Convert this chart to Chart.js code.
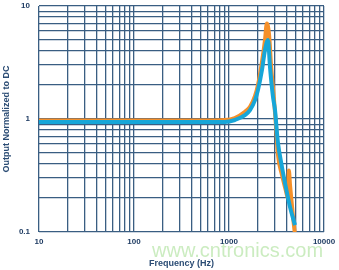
<!DOCTYPE html>
<html>
<head>
<meta charset="utf-8">
<script src="https://cdn.jsdelivr.net/npm/chart.js@4/dist/chart.umd.min.js"></script>
<style>
  html, body { margin: 0; padding: 0; background: #ffffff; }
  #wrap { position: relative; width: 339px; height: 270px; }
  #wm { position: absolute; left: 152px; top: 239px; font-family: "Liberation Sans", Arial, sans-serif;
        font-size: 20px; color: rgba(160, 220, 140, 0.55); white-space: nowrap; pointer-events: none; }
</style>
</head>
<body>
<div id="wrap">
  <canvas id="c" width="339" height="270"></canvas>
  <div id="wm">www.cntronics.com</div>
</div>
<script>
// ---- Data ----
const freqOrange = [10, 100, 500, 908, 1150, 1472, 1663, 1879, 2020, 2224, 2392, 2500, 2640, 2770, 2980, 3130, 3280, 3610, 3980, 4170, 4270, 4390, 4720, 4950];
const orangeVals = [0.97, 0.97, 0.97, 0.98, 1.02, 1.16, 1.28, 1.6, 2.0, 3.2, 5.0, 7.0, 5.6, 3.0, 1.47, 0.85, 0.48, 0.32, 0.23, 0.2, 0.35, 0.26, 0.136, 0.095];

const freqBlue = [10, 100, 500, 908, 1155, 1472, 1663, 1879, 2020, 2224, 2392, 2574, 2701, 2904, 3050, 3200, 3280, 3610, 3890, 4390, 4950];
const blueVals = [0.94, 0.94, 0.94, 0.94, 0.98, 1.08, 1.2, 1.47, 1.81, 2.72, 4.08, 5.0, 2.88, 1.57, 1.2, 0.75, 0.61, 0.376, 0.27, 0.166, 0.115];

const xTickLabels = ['10', '100', '1000', '10000'];
const yTickLabels = ['0.1', '1', '10'];

const xTitle = 'Frequency (Hz)';
const yTitle = 'Output Normalized to DC';

// ---- helpers ----
function decadeTicks(min, max) {
  const out = [];
  for (let p = Math.round(Math.log10(min)); p < Math.round(Math.log10(max)); p++) {
    for (let m = 1; m <= 9; m++) out.push(m * Math.pow(10, p));
  }
  out.push(max);
  return out;
}
function fmt(v, labels) {
  const l = labels.find(l => Math.abs(parseFloat(l) - v) / v < 1e-6);
  return l === undefined ? '' : l;
}

const gridColor = '#3a5e82';
const textColor = '#1f3c63';

new Chart(document.getElementById('c'), {
  type: 'line',
  data: {
    datasets: [
      {
        label: 'Blue',
        data: freqBlue.map((f, i) => ({ x: f, y: blueVals[i] })),
        borderColor: '#17a6d8',
        borderWidth: 4,
        pointRadius: 0,
        cubicInterpolationMode: 'monotone',
        order: 1
      },
      {
        label: 'Orange',
        data: freqOrange.map((f, i) => ({ x: f, y: orangeVals[i] })),
        borderColor: '#f5902a',
        borderWidth: 4,
        pointRadius: 0,
        cubicInterpolationMode: 'monotone',
        order: 2
      }
    ]
  },
  options: {
    responsive: false,
    animation: false,
    devicePixelRatio: 1,
    layout: { padding: { left: 0, top: 6, right: 15, bottom: 0 } },
    plugins: { legend: { display: false }, tooltip: { enabled: false } },
    scales: {
      x: {
        type: 'logarithmic',
        min: 10, max: 10000,
        afterBuildTicks: s => { s.ticks = decadeTicks(10, 10000).map(v => ({ value: v })); },
        afterFit: s => { s.height = 38; s.paddingLeft = 0; s.paddingRight = 0; },
        grid: { color: gridColor, lineWidth: 1.3, drawTicks: false },
        border: { display: false },
        ticks: {
          autoSkip: false, maxRotation: 0, padding: 5,
          color: textColor,
          font: { family: 'Liberation Sans, Arial, sans-serif', size: 8, weight: 'bold' },
          callback: v => fmt(v, xTickLabels)
        },
        title: {
          display: true, text: xTitle, color: '#2b4c74',
          font: { family: 'Liberation Sans, Arial, sans-serif', size: 9, weight: 'bold' },
          padding: { top: 0, bottom: 1 }
        }
      },
      y: {
        type: 'logarithmic',
        min: 0.1, max: 10,
        afterBuildTicks: s => { s.ticks = decadeTicks(0.1, 10).map(v => ({ value: v })); },
        afterFit: s => { s.width = 39; s.paddingTop = 0; s.paddingBottom = 0; },
        grid: { color: gridColor, lineWidth: 1.3, drawTicks: false },
        border: { display: false },
        ticks: {
          autoSkip: false, padding: 9,
          color: textColor,
          font: { family: 'Liberation Sans, Arial, sans-serif', size: 8, weight: 'bold' },
          callback: v => fmt(v, yTickLabels)
        },
        title: {
          display: true, text: yTitle, color: '#2b4c74',
          font: { family: 'Liberation Sans, Arial, sans-serif', size: 9, weight: 'bold' },
          padding: { top: 1, bottom: 0 }
        }
      }
    }
  }
});
</script>
</body>
</html>
